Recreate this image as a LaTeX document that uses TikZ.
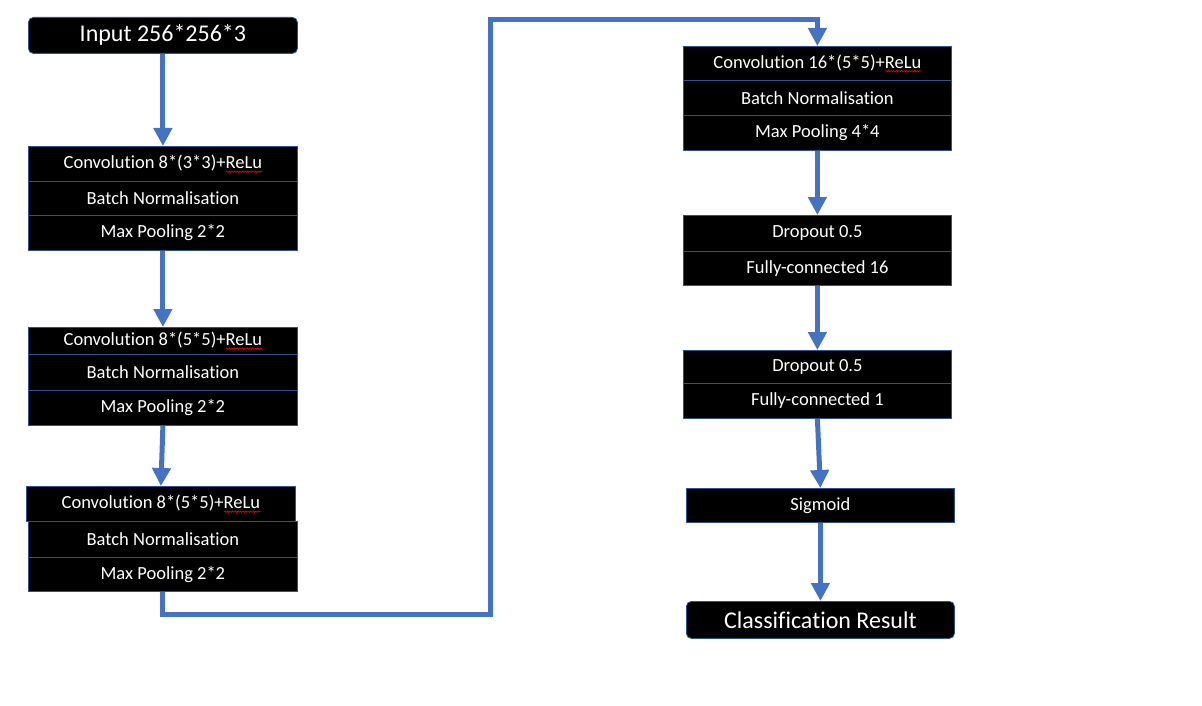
\documentclass[tikz,border=0pt]{standalone}
\usepackage{fontspec}
\setmainfont{Carlito}[Ligatures={NoCommon,NoRequired,NoContextual},Contextuals={NoAlternate}]
\usetikzlibrary{arrows.meta,decorations.pathmorphing}

\definecolor{flow}{HTML}{4472C4}
\definecolor{edge}{HTML}{2F528F}

% red squiggle under a word (spell-check mark)
\newcommand\squiggle[1]{\setbox0\hbox{#1}\leavevmode\rlap{\tikz[baseline=0pt]\draw[red,line width=0.6pt,decorate,decoration={snake,amplitude=0.7pt,segment length=2.6pt}] (0pt,-3pt) -- (\wd0,-3pt);}#1}

\tikzset{
  layer/.style={draw=edge, line width=0.8pt, fill=black, text=white,
    font=\fontsize{18.5}{20}\selectfont, minimum width=269pt, inner sep=0pt, anchor=north west},
  term/.style={layer, rounded corners=5pt, font=\fontsize{24}{26}\selectfont},
  flowline/.style={draw=flow, line width=5pt},
  flowarrow/.style={flowline, -{Triangle[width=18pt,length=18pt]}},
}

\begin{document}
\begin{tikzpicture}[x=1pt,y=-1pt]
\useasboundingbox (0,0) rectangle (1202,706);

% left column
\node[term, minimum height=36pt] (inp) at (28,17) {Input 256*256*3};

\node[layer, minimum height=35pt] (c1) at (28,146) {Convolution 8*(3*3)+\squiggle{ReLu}};
\node[layer, minimum height=34pt] (b1) at (28,181) {Batch Normalisation};
\node[layer, minimum height=35pt] (p1) at (28,215) {Max Pooling 2*2};

\node[layer, minimum height=27pt] (c2) at (28,327) {Convolution 8*(5*5)+\squiggle{ReLu}};
\node[layer, minimum height=36pt] (b2) at (28,354) {Batch Normalisation};
\node[layer, minimum height=35pt] (p2) at (28,390) {Max Pooling 2*2};

\node[layer, minimum height=35pt] (c3) at (26,486) {Convolution 8*(5*5)+\squiggle{ReLu}};
\node[layer, minimum height=36pt] (b3) at (28,521) {Batch Normalisation};
\node[layer, minimum height=34pt] (p3) at (28,557) {Max Pooling 2*2};

% right column
\node[layer, minimum width=268pt, minimum height=34pt] (c4) at (683,46) {Convolution 16*(5*5)+\squiggle{ReLu}};
\node[layer, minimum width=268pt, minimum height=35pt] (b4) at (683,80) {Batch Normalisation};
\node[layer, minimum width=268pt, minimum height=35pt] (p4) at (683,115) {Max Pooling 4*4};

\node[layer, minimum width=268pt, minimum height=36pt] (d1) at (683,215) {Dropout 0.5};
\node[layer, minimum width=268pt, minimum height=34pt] (f1) at (683,251) {Fully-connected 16};

\node[layer, minimum width=268pt, minimum height=33pt] (d2) at (683,350) {Dropout 0.5};
\node[layer, minimum width=268pt, minimum height=35pt] (f2) at (683,383) {Fully-connected 1};

\node[layer, minimum width=268pt, minimum height=34pt] (sig) at (686,488) {Sigmoid};
\node[term, minimum width=268pt, minimum height=37pt] (res) at (686,601) {Classification Result};

% connectors
\coordinate (k1) at (490,614);
\coordinate (k2) at (490,20);

\draw[flowarrow] (inp.south) -- (c1.north);
\draw[flowarrow] (p1.south) -- (c2.north);
\draw[flowarrow] (p2.south) -- (c3.north);
\draw[flowarrow] (p3.south) |- (k1) -- (k2) -| (c4.north);
\draw[flowarrow] (p4.south) -- (d1.north);
\draw[flowarrow] (f1.south) -- (d2.north);
\draw[flowarrow] (f2.south) -- (sig.north);
\draw[flowarrow] (sig.south) -- (res.north);
\end{tikzpicture}
\end{document}
